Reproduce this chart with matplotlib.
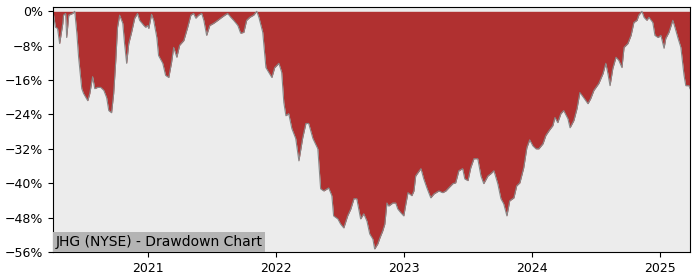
import matplotlib
matplotlib.use("Agg")
import matplotlib.pyplot as plt
import matplotlib.dates as mdates
from matplotlib.ticker import FuncFormatter, MultipleLocator
import pandas as pd

dates = [
    "2020-04-06", "2020-04-13", "2020-04-19", "2020-04-25", "2020-05-04", "2020-05-06",
    "2020-05-12", "2020-05-15", "2020-05-21", "2020-06-01", "2020-06-07", "2020-06-13",
    "2020-06-18", "2020-06-27", "2020-07-02", "2020-07-14", "2020-07-20", "2020-07-28",
    "2020-08-03", "2020-08-11", "2020-08-20", "2020-08-29", "2020-09-06", "2020-09-12",
    "2020-09-20", "2020-09-26", "2020-10-02", "2020-10-07", "2020-10-13", "2020-10-22",
    "2020-10-27", "2020-11-02", "2020-11-08", "2020-11-16", "2020-11-25", "2020-12-03",
    "2020-12-09", "2020-12-21", "2020-12-26", "2021-01-01", "2021-01-04", "2021-01-12",
    "2021-01-18", "2021-01-27", "2021-02-01", "2021-02-13", "2021-02-21", "2021-03-02",
    "2021-03-10", "2021-03-16", "2021-03-25", "2021-04-02", "2021-04-14", "2021-04-25",
    "2021-05-04", "2021-05-12", "2021-05-18", "2021-05-26", "2021-06-04", "2021-06-10",
    "2021-06-18", "2021-06-27", "2021-07-08", "2021-07-20", "2021-07-28", "2021-08-09",
    "2021-08-17", "2021-08-26", "2021-09-03", "2021-09-15", "2021-09-23", "2021-10-02",
    "2021-10-10", "2021-10-19", "2021-10-30", "2021-11-08", "2021-11-14", "2021-11-25",
    "2021-12-04", "2021-12-12", "2021-12-21", "2021-12-29", "2022-01-10", "2022-01-18",
    "2022-01-24", "2022-01-30", "2022-02-07", "2022-02-16", "2022-02-27", "2022-03-08",
    "2022-03-19", "2022-03-28", "2022-04-05", "2022-04-17", "2022-05-01", "2022-05-09",
    "2022-05-18", "2022-06-01", "2022-06-10", "2022-06-15", "2022-06-27", "2022-07-05",
    "2022-07-14", "2022-07-25", "2022-08-03", "2022-08-12", "2022-08-20", "2022-08-31",
    "2022-09-09", "2022-09-18", "2022-09-26", "2022-10-05", "2022-10-10", "2022-10-19",
    "2022-10-25", "2022-11-02", "2022-11-08", "2022-11-14", "2022-11-19", "2022-12-01",
    "2022-12-09", "2022-12-15", "2022-12-24", "2023-01-01", "2023-01-07", "2023-01-13",
    "2023-01-24", "2023-01-30", "2023-02-04", "2023-02-10", "2023-02-19", "2023-02-27",
    "2023-03-08", "2023-03-19", "2023-03-28", "2023-04-11", "2023-04-22", "2023-05-01",
    "2023-05-09", "2023-05-21", "2023-05-29", "2023-06-07", "2023-06-18", "2023-06-24",
    "2023-07-03", "2023-07-11", "2023-07-20", "2023-07-31", "2023-08-09", "2023-08-17",
    "2023-08-29", "2023-09-06", "2023-09-15", "2023-09-26", "2023-10-05", "2023-10-13",
    "2023-10-22", "2023-10-30", "2023-11-11", "2023-11-19", "2023-11-28", "2023-12-09",
    "2023-12-18", "2023-12-26", "2024-01-04", "2024-01-13", "2024-01-21", "2024-02-02",
    "2024-02-10", "2024-02-19", "2024-03-01", "2024-03-07", "2024-03-15", "2024-03-24",
    "2024-04-01", "2024-04-13", "2024-04-19", "2024-04-30", "2024-05-09", "2024-05-17",
    "2024-05-28", "2024-06-09", "2024-06-17", "2024-06-26", "2024-07-10", "2024-07-22",
    "2024-07-30", "2024-08-05", "2024-08-11", "2024-08-19", "2024-08-28", "2024-09-05",
    "2024-09-14", "2024-09-20", "2024-10-01", "2024-10-10", "2024-10-18", "2024-10-27",
    "2024-11-01", "2024-11-10", "2024-11-16", "2024-11-24", "2024-11-30", "2024-12-11",
    "2024-12-17", "2024-12-26", "2025-01-03", "2025-01-12", "2025-01-17", "2025-01-26",
    "2025-02-06", "2025-02-12", "2025-02-21", "2025-03-01", "2025-03-10", "2025-03-15",
    "2025-03-24", "2025-03-27",
]

drawdown_pct = [
    0.0, -3.7, -4.0, -7.5, -2.8, -0.9,
    -0.5, -6.1, -0.9, -0.5, 0.0, -5.1,
    -10.7, -18.0, -19.1, -20.8, -19.1, -15.2,
    -18.0, -17.7, -17.7, -18.4, -20.1, -23.1,
    -23.6, -19.1, -11.4, -3.7, -0.9, -2.8,
    -7.5, -12.1, -7.5, -4.9, -1.6, -0.5,
    -2.1, -3.3, -3.7, -3.3, -4.0, -0.7,
    -2.1, -6.1, -10.3, -12.1, -14.9, -15.4,
    -11.9, -8.4, -10.7, -7.9, -6.8, -3.7,
    -0.9, -0.5, -1.6, -0.9, -0.5, -2.1,
    -5.6, -3.3, -2.8, -2.1, -1.6, -0.9,
    -0.5, -1.4, -2.1, -3.3, -5.1, -4.9,
    -2.1, -1.4, -0.9, 0.0, -1.4, -4.9,
    -13.1, -14.2, -15.4, -13.1, -12.1, -14.2,
    -21.2, -24.3, -23.8, -27.3, -29.6, -34.8,
    -29.4, -26.1, -26.1, -29.6, -32.0, -41.3,
    -41.8, -41.1, -42.9, -47.6, -48.3, -49.5,
    -50.4, -47.6, -46.0, -43.6, -43.6, -48.3,
    -47.1, -48.8, -51.8, -53.0, -55.3, -54.1,
    -52.7, -51.1, -49.5, -44.6, -45.3, -44.6,
    -44.6, -46.0, -46.9, -47.6, -44.8, -42.2,
    -42.9, -41.8, -38.3, -37.6, -36.6, -39.0,
    -41.1, -43.4, -42.5, -41.8, -42.2, -41.8,
    -41.1, -40.1, -39.9, -37.1, -36.6, -39.0,
    -39.4, -36.4, -34.3, -34.3, -38.3, -40.1,
    -38.3, -37.8, -37.1, -40.1, -43.6, -44.8,
    -47.6, -44.1, -43.4, -40.6, -39.9, -36.4,
    -31.7, -29.9, -31.3, -32.0, -32.0, -30.8,
    -28.9, -27.8, -26.6, -24.7, -25.9, -23.8,
    -23.1, -25.0, -27.1, -25.4, -22.6, -18.9,
    -20.1, -21.5, -20.3, -18.4, -16.8, -14.5,
    -12.1, -14.5, -17.3, -13.3, -10.7, -11.4,
    -13.1, -8.4, -7.5, -5.6, -2.6, -2.1,
    -0.9, 0.0, -1.4, -2.1, -1.4, -2.6,
    -5.6, -6.1, -5.6, -8.6, -6.3, -4.9,
    -2.1, -3.7, -6.3, -8.4, -14.9, -17.3,
    -17.3, -18.0,
]

title_text = "JHG (NYSE) - Drawdown Chart"

x = pd.to_datetime(dates)
y = [v / 100.0 for v in drawdown_pct]

fig = plt.figure(figsize=(7.0, 2.8), dpi=100)
ax = fig.add_axes([0.0757, 0.1, 0.91, 0.875])
ax.set_facecolor("#ececec")

ax.fill_between(x, y, 0, color="#b03030", linewidth=0)
ax.plot(x, y, color="#888888", linewidth=0.8)

ax.set_xlim(x[0], x[-1])
ax.set_ylim(-0.56, 0.01)
ax.yaxis.set_major_locator(MultipleLocator(0.08))

def pct_fmt(v, pos):
    s = f"{v*100:.0f}%"
    if s == "-0%":
        s = "0%"
    return s.replace("-", "\u2212")

ax.yaxis.set_major_formatter(FuncFormatter(pct_fmt))
ax.xaxis.set_major_locator(mdates.YearLocator())
ax.xaxis.set_major_formatter(mdates.DateFormatter("%Y"))
ax.tick_params(labelsize=9)

ax.text(0.004, 0.012, title_text, transform=ax.transAxes, fontsize=10,
        ha="left", va="bottom",
        bbox=dict(facecolor="#b4b4b4", edgecolor="none", pad=2))

fig.savefig("out.png", dpi=100)
